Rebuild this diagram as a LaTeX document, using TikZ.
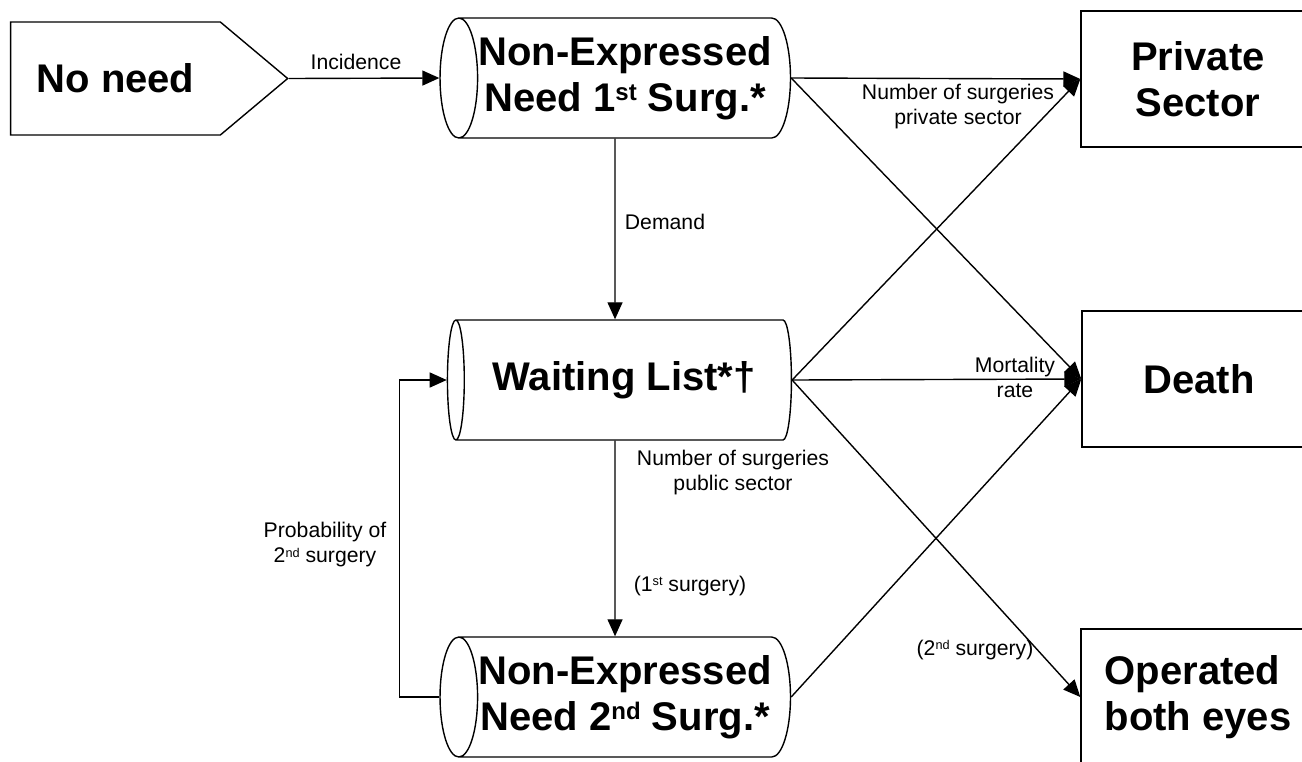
\documentclass[tikz,border=0pt]{standalone}
\usepackage{fontspec}
\setmainfont{Liberation Sans}
\usetikzlibrary{shapes.geometric,shapes.symbols,arrows.meta}

\newcommand{\supr}[1]{\raisebox{0.27em}{\scalebox{0.6}{#1}}}

\tikzset{
  big/.style={font=\fontsize{20}{23}\selectfont\bfseries, align=center},
  lbl/.style={font=\fontsize{10.6}{12.5}\selectfont, align=center, inner sep=0pt},
  tank/.style={draw, big, cylinder, shape border rotate=180, aspect=0.45,
    minimum width=60pt, minimum height=172pt, inner sep=0pt},
  sink/.style={draw, big, rectangle, minimum width=117pt, minimum height=68pt},
  flow/.style={-{Triangle[length=8.5pt,width=7.5pt]}},
}

\begin{document}
\begin{tikzpicture}[x=0.5pt,y=-0.5pt,line width=0.7pt]
\useasboundingbox (0,0) rectangle (1302,761);
\clip (0,0) rectangle (1302,761);
% stocks
\node[draw,big,signal,signal to=east,signal pointer angle=80,
  minimum width=138.5pt,minimum height=56.5pt] (noneed) at (115.5,78.5) {No need};
\node[tank] (need1) at (625,78) {Non-Expressed\\Need 1\supr{st} Surg.*};
\node[tank] (wait) at (624,380) {Waiting List*\textdagger};
\node[tank] (need2) at (625,697) {Non-Expressed\\Need 2\supr{nd} Surg.*};
% outflows
\node[sink] (private) at (1198,79) {Private\\Sector};
\node[sink] (death) at (1199,379) {Death};
\node[sink,align=left] (both) at (1198,697) {Operated\\both eyes};
% flows
\draw[flow] (noneed.east) -- (need1.west);
\draw[flow] ([xshift=-5pt]need1.south) -- ([xshift=-4.5pt]wait.north);
\draw[flow] ([xshift=-4.5pt]wait.south) -- ([xshift=-5pt]need2.north);
\draw[flow] (need2.west) -- ++(-40,0) |- (wait.west);
\draw[flow] (need1.east) -- (private.west);
\draw[flow] (need1.east) -- (death.west);
\draw[flow] (wait.east) -- (private.west);
\draw[flow] (wait.east) -- (death.west);
\draw[flow] (wait.east) -- (both.west);
\draw[flow] (need2.east) -- (death.west);
% labels
\node[lbl] (incid) at (356,62) {Incidence};
\node[lbl] (demand) at (665,222) {Demand};
\node[lbl] (privnum) at (958,107) {Number of surgeries\\private sector};
\node[lbl] (mort) at (1015,377) {Mortality\\rate};
\node[lbl] (pubnum) at (733,473) {Number of surgeries\\public sector};
\node[lbl] (prob) at (325,545) {Probability of\\2\supr{nd} surgery};
\node[lbl] (first) at (690,586) {(1\supr{st} surgery)};
\node[lbl] (second) at (975,650) {(2\supr{nd} surgery)};
\end{tikzpicture}
\end{document}
